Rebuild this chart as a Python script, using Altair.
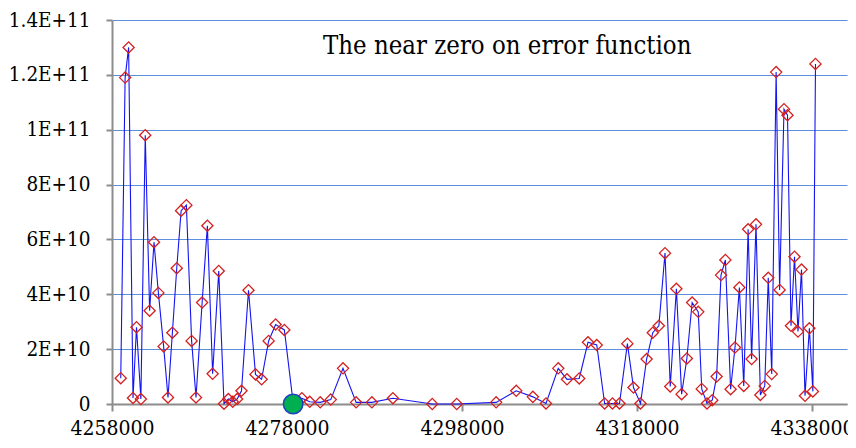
import altair as alt
import pandas as pd

x_vals = [
    4259000, 4259500, 4259900, 4260400, 4260800, 4261300, 4261800, 4262300, 4262800, 4263300,
    4263900, 4264400, 4264900, 4265400, 4265900, 4266500, 4267100, 4267600, 4268300, 4268900,
    4269500, 4270200, 4270800, 4271300, 4271800, 4272300, 4272800, 4273600, 4274400, 4275100,
    4275900, 4276700, 4277700, 4278700, 4279700, 4280600, 4281800, 4283000, 4284400, 4285900,
    4287700, 4290100, 4294600, 4297400, 4301900, 4304200, 4306100, 4307600, 4309000, 4310000,
    4311400, 4312400, 4313400, 4314300, 4315200, 4316000, 4316900, 4317600, 4318400, 4319100,
    4319800, 4320500, 4321200, 4321800, 4322500, 4323100, 4323700, 4324300, 4325000, 4325400,
    4326000, 4326600, 4327100, 4327600, 4328100, 4328700, 4329200, 4329700, 4330200, 4330700,
    4331100, 4331600, 4332100, 4332600, 4333000, 4333400, 4333900, 4334300, 4334800, 4335200,
    4335600, 4336000, 4336400, 4336800, 4337200, 4337700, 4338100, 4338400,
]
y_vals = [
    9.4e9, 1.19e11, 1.30e11, 2.2e9, 2.8e10, 1.8e9, 9.8e10, 3.4e10, 5.9e10, 4.05e10,
    2.1e10, 2.4e9, 2.6e10, 4.95e10, 7.05e10, 7.25e10, 2.3e10, 2.4e9, 3.7e10, 6.5e10,
    1.1e10, 4.85e10, 1e8, 1.8e9, 8e8, 1.8e9, 4.8e9, 4.15e10, 1.08e10, 9.0e9,
    2.3e10, 2.9e10, 2.7e10, 5e8, 2.1e9, 8e8, 6e8, 1.6e9, 1.3e10, 6e8,
    6e8, 2.1e9, 0, 0, 6e8, 4.8e9, 2.6e9, 2e8, 1.3e10, 9.0e9,
    9.3e9, 2.25e10, 2.15e10, 2e8, 2e8, 2e8, 2.2e10, 6.0e9, 2e8, 1.64e10,
    2.6e10, 2.85e10, 5.5e10, 6.4e9, 4.2e10, 3.6e9, 1.66e10, 3.7e10, 3.36e10, 5.5e9,
    2e8, 1.4e9, 1.0e10, 4.7e10, 5.25e10, 5.4e9, 2.06e10, 4.25e10, 6.6e9, 6.37e10,
    1.64e10, 6.55e10, 3.3e9, 6.6e9, 4.6e10, 1.09e10, 1.21e11, 4.16e10, 1.075e11, 1.053e11,
    2.85e10, 5.37e10, 2.64e10, 4.9e10, 3.0e9, 2.76e10, 4.6e9, 1.24e11,
]
zero_x = [4278700]
zero_y = [0]
x_ticks = [4258000, 4278000, 4298000, 4318000, 4338000]
y_ticks = [0, 2e10, 4e10, 6e10, 8e10, 1e11, 1.2e11, 1.4e11]
title_text = "The near zero on error function"

df = pd.DataFrame({"x": x_vals, "y": y_vals})
dz = pd.DataFrame({"x": zero_x, "y": zero_y})

FONT = "DejaVu Serif Condensed, DejaVu Serif, serif"

xs = alt.Scale(domain=[4258000, 4342000], nice=False, zero=False)
ys = alt.Scale(domain=[0, 1.4e11], nice=False)

x_axis = alt.Axis(
    values=x_ticks, format="d", grid=False, title=None,
    domainColor="#8c8c8c", domainWidth=2, tickColor="#8c8c8c", tickWidth=2,
    tickSize=7, labelPadding=6, labelFont=FONT, labelFontSize=21,
    labelColor="#000000", labelFlush=False, labelOverlap=False,
)
y_axis = alt.Axis(
    values=y_ticks, grid=True, gridColor="#5b8fdc", gridWidth=1, title=None,
    domainColor="#8c8c8c", domainWidth=2, tickColor="#8c8c8c", tickWidth=2,
    tickSize=6, labelPadding=16, labelFont=FONT, labelFontSize=20.5,
    labelColor="#000000", labelFlush=False, labelOverlap=False,
    labelExpr="datum.value == 0 ? '0' : replace(format(datum.value, '.2~e'), 'e', 'E')",
)

base = alt.Chart(df)
line = base.mark_line(color="#1414f0", strokeWidth=1.1).encode(
    x=alt.X("x:Q", scale=xs, axis=x_axis),
    y=alt.Y("y:Q", scale=ys, axis=y_axis),
)
pts = base.mark_point(shape="diamond", filled=False, color="#d42020",
                      size=125, strokeWidth=1.3, opacity=1).encode(
    x=alt.X("x:Q", scale=xs),
    y=alt.Y("y:Q", scale=ys),
)
zero_pt = alt.Chart(dz).mark_point(shape="circle", filled=True, fill="#00b050",
                                   stroke="#2040c0", strokeWidth=1.5,
                                   size=380, opacity=1).encode(
    x=alt.X("x:Q", scale=xs),
    y=alt.Y("y:Q", scale=ys),
)
label = alt.Chart(pd.DataFrame({"t": [title_text]})).mark_text(
    font=FONT, fontSize=25.5, align="left", baseline="alphabetic", color="#000000"
).encode(text="t:N", x=alt.value(211), y=alt.value(34))

chart = alt.layer(line, pts, zero_pt, label).properties(
    width=735, height=384,
    autosize=alt.AutoSizeParams(type="none"),
    padding={"left": 104, "top": 12, "right": 1, "bottom": 36},
).configure_view(stroke=None)

chart.save("out.html", embed_options={"renderer": "svg", "actions": False})
